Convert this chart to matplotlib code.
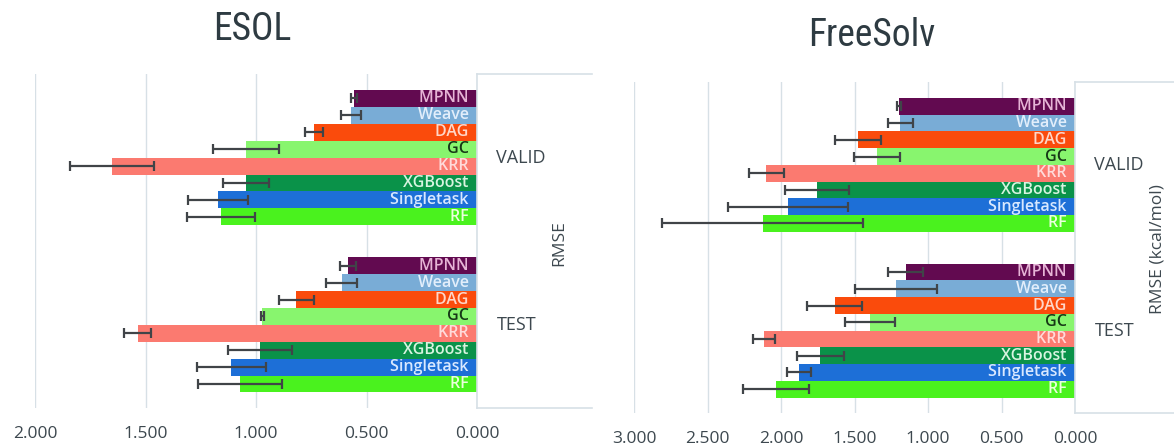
import matplotlib
matplotlib.use("Agg")
import matplotlib.pyplot as plt
from matplotlib.lines import Line2D
import numpy as np

# ---- data -------------------------------------------------------------
models = ["MPNN", "Weave", "DAG", "GC", "KRR", "XGBoost", "Singletask", "RF"]
groups = ["VALID", "TEST"]

esol_valid = [0.556, 0.572, 0.738, 1.044, 1.651, 1.044, 1.173, 1.158]
esol_valid_err = [0.015, 0.045, 0.040, 0.150, 0.190, 0.105, 0.135, 0.155]
esol_test = [0.583, 0.611, 0.818, 0.971, 1.536, 0.983, 1.112, 1.071]
esol_test_err = [0.035, 0.070, 0.080, 0.005, 0.060, 0.145, 0.155, 0.190]

freesolv_valid = [1.198, 1.188, 1.477, 1.348, 2.099, 1.756, 1.952, 2.124]
freesolv_valid_err = [0.012, 0.086, 0.155, 0.156, 0.120, 0.220, 0.410, 0.685]
freesolv_test = [1.152, 1.218, 1.635, 1.396, 2.117, 1.734, 1.876, 2.033]
freesolv_test_err = [0.120, 0.280, 0.185, 0.170, 0.075, 0.160, 0.080, 0.225]

esol_ticks = [2.0, 1.5, 1.0, 0.5, 0.0]
freesolv_ticks = [3.0, 2.5, 2.0, 1.5, 1.0, 0.5, 0.0]

# ---- styling ----------------------------------------------------------
bar_colors = ["#620a50", "#79acd6", "#fa4b0c", "#88f56e",
              "#fb7a70", "#0a9249", "#1d6fd7", "#4af21e"]
label_colors = ["#e6b4d6", "#e2eefb", "#ffd6c8", "#163816",
                "#ffdada", "#d8f4e0", "#d8e8ff", "#eaffdc"]
text_color = "#3d484f"
grid_color = "#d7e0e6"
err_color = "#404448"

FONT = ["Open Sans", "DejaVu Sans"]
TITLE_FONT = ["Roboto Condensed", "DejaVu Sans"]

fig = plt.figure(figsize=(11.74, 4.48), dpi=100)
W, H = 1174.0, 448.0


def px_axes(x0, y0, x1, y1):
    """Axes placed by pixel box (top-left origin)."""
    return fig.add_axes([x0 / W, 1 - y1 / H, (x1 - x0) / W, (y1 - y0) / H])


GROUP_PITCH = 9.9


def draw_panel(ax, valid, valid_err, test, test_err, ticks, ylabel, box_right):
    xmax = max(ticks)
    series = [(valid, valid_err), (test, test_err)]
    for g, (vals, errs) in enumerate(series):
        centre = g * GROUP_PITCH
        ys = centre + np.arange(len(models)) - (len(models) - 1) / 2
        ax.barh(ys, vals, height=1.0, color=bar_colors, edgecolor="none", zorder=2)
        ax.errorbar(vals, ys, xerr=errs, fmt="none", ecolor=err_color,
                    elinewidth=1.6, capsize=3.5, capthick=1.6, zorder=3)
        for y, name, lc in zip(ys, models, label_colors):
            ax.text(0, y, name + "  ", ha="right", va="center",
                    fontsize=11.5, color=lc, family=FONT, weight="semibold",
                    zorder=4, clip_on=False)
        ax.text(1.044, centre, groups[g], transform=ax.get_yaxis_transform(),
                ha="left", va="center", fontsize=13, color=text_color, family=FONT)

    ax.set_xlim(xmax, 0)
    ax.set_ylim(GROUP_PITCH + 4 + 0.92, -4.95)
    ax.set_xticks(ticks)
    ax.set_xticklabels([f"{t:.3f}" for t in ticks], family=FONT,
                       fontsize=12.5, color=text_color)
    ax.tick_params(axis="x", length=0, pad=13)
    ax.set_yticks([])
    ax.grid(axis="x", color=grid_color, lw=1.0, zorder=0)
    ax.set_axisbelow(True)
    for s in ax.spines.values():
        s.set_visible(False)

    # category label frame to the right of the zero line
    for yy in (0, 1):
        ax.add_line(Line2D([1, box_right], [yy, yy], transform=ax.transAxes,
                           color=grid_color, lw=1.2, clip_on=False))
    ax.add_line(Line2D([1, 1], [0, 1], transform=ax.transAxes,
                       color=grid_color, lw=1.2, clip_on=False))

    ax.text(1.186, 0.495, ylabel, transform=ax.transAxes, rotation=90,
            ha="center", va="center", fontsize=12.5, color=text_color, family=FONT)


ax1 = px_axes(35, 74, 477, 408)
draw_panel(ax1, esol_valid, esol_valid_err, esol_test, esol_test_err,
           esol_ticks, "RMSE", 1.26)

ax2 = px_axes(634, 82, 1075, 413)
draw_panel(ax2, freesolv_valid, freesolv_valid_err, freesolv_test, freesolv_test_err,
           freesolv_ticks, "RMSE (kcal/mol)", 1.23)

title_kw = dict(ha="center", va="center", fontsize=27, color="#2e3b42",
                family=TITLE_FONT, fontstretch="condensed", weight="normal")
fig.text(252 / W, 1 - 30 / H, "ESOL", **title_kw)
fig.text(872 / W, 1 - 35 / H, "FreeSolv", **title_kw)

fig.savefig("out.png", dpi=100)
